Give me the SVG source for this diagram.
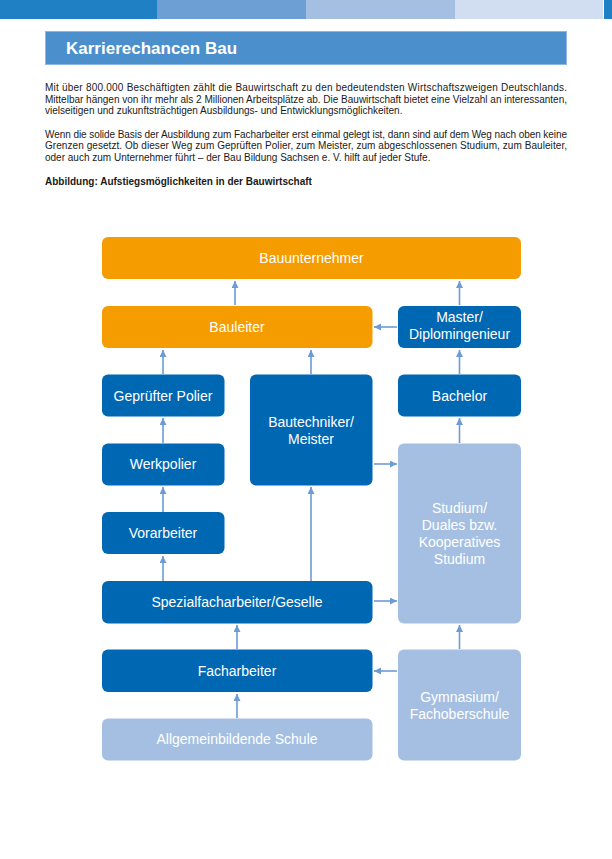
<svg xmlns="http://www.w3.org/2000/svg" width="612" height="859" viewBox="0 0 612 859">
<style>
.body{font-family:"Liberation Sans",Arial,sans-serif;font-size:10px;fill:#1a1a1a}
.cap{font-family:"Liberation Sans",Arial,sans-serif;font-size:10px;font-weight:bold;fill:#1a1a1a}
.title{font-family:"Liberation Sans",Arial,sans-serif;font-size:17px;font-weight:bold;fill:#ffffff}
.lbl{font-family:"Liberation Sans",Arial,sans-serif;font-size:14px;fill:#ffffff;text-anchor:middle}
.or{fill:#f59c00}
.bl{fill:#0067b3}
.lt{fill:#a5bfe3}
.con{stroke:#6c9bd6;stroke-width:1.6;fill:none;marker-end:url(#ah)}
</style>
<defs>
<marker id="ah" markerUnits="userSpaceOnUse" markerWidth="8" markerHeight="8" refX="7" refY="3.5" orient="auto">
<path d="M0,0 L7,3.5 L0,7 z" fill="#6c9bd6"/>
</marker>
</defs>
<rect width="612" height="859" fill="#ffffff"/>
<g id="topbar">
<rect x="0" y="0" width="157" height="19" fill="#1f80c4"/>
<rect x="157" y="0" width="149" height="19" fill="#6e9fd4"/>
<rect x="306" y="0" width="149" height="19" fill="#a5bfe3"/>
<rect x="455" y="0" width="148" height="19" fill="#d1ddf0"/>
<rect x="604" y="0" width="8" height="19" fill="#1f80c4"/>
</g>
<g id="titlebar">
<rect x="45.5" y="31.5" width="521" height="33" fill="#4b8fcd" stroke="#8fb7e2" stroke-width="1"/>
<text class="title" x="66" y="54">Karrierechancen Bau</text>
</g>
<g id="intro">
<text class="body" x="45" y="91" textLength="522" lengthAdjust="spacing">Mit über 800.000 Beschäftigten zählt die Bauwirtschaft zu den bedeutendsten Wirtschaftszweigen Deutschlands.</text>
<text class="body" x="45" y="102.5" textLength="522" lengthAdjust="spacing">Mittelbar hängen von ihr mehr als 2 Millionen Arbeitsplätze ab. Die Bauwirtschaft bietet eine Vielzahl an interessanten,</text>
<text class="body" x="45" y="114">vielseitigen und zukunftsträchtigen Ausbildungs- und Entwicklungsmöglichkeiten.</text>
<text class="body" x="45" y="137.5" textLength="522" lengthAdjust="spacing">Wenn die solide Basis der Ausbildung zum Facharbeiter erst einmal gelegt ist, dann sind auf dem Weg nach oben keine</text>
<text class="body" x="45" y="149" textLength="522" lengthAdjust="spacing">Grenzen gesetzt. Ob dieser Weg zum Geprüften Polier, zum Meister, zum abgeschlossenen Studium, zum Bauleiter,</text>
<text class="body" x="45" y="160.5">oder auch zum Unternehmer führt – der Bau Bildung Sachsen e. V. hilft auf jeder Stufe.</text>
<text class="cap" x="45" y="185">Abbildung: Aufstiegsmöglichkeiten in der Bauwirtschaft</text>
</g>
<g id="connectors">
<line class="con" x1="235" y1="305" x2="235" y2="281"/>
<line class="con" x1="459.5" y1="305" x2="459.5" y2="281"/>
<line class="con" x1="397" y1="327" x2="374" y2="327"/>
<line class="con" x1="163" y1="374" x2="163" y2="350"/>
<line class="con" x1="311" y1="374" x2="311" y2="350"/>
<line class="con" x1="459.5" y1="374" x2="459.5" y2="350"/>
<line class="con" x1="163" y1="443" x2="163" y2="418"/>
<line class="con" x1="459.5" y1="443" x2="459.5" y2="418"/>
<line class="con" x1="374" y1="464" x2="397" y2="464"/>
<line class="con" x1="163" y1="512" x2="163" y2="487"/>
<line class="con" x1="163" y1="581" x2="163" y2="556"/>
<line class="con" x1="311" y1="581" x2="311" y2="487"/>
<line class="con" x1="374" y1="601" x2="397" y2="601"/>
<line class="con" x1="237" y1="649" x2="237" y2="625"/>
<line class="con" x1="459.5" y1="649" x2="459.5" y2="625"/>
<line class="con" x1="397" y1="671" x2="374" y2="671"/>
<line class="con" x1="237" y1="718" x2="237" y2="694"/>
</g>
<g id="bauunternehmer"><rect class="or" x="102" y="237" width="419" height="42" rx="6"/><text class="lbl" x="311.5" y="263">Bauunternehmer</text></g>
<g id="bauleiter"><rect class="or" x="102" y="306" width="270.5" height="42" rx="6"/><text class="lbl" x="237" y="332">Bauleiter</text></g>
<g id="master"><rect class="bl" x="398" y="306" width="123" height="42" rx="6"/><text class="lbl" x="459.5" y="322">Master/</text><text class="lbl" x="459.5" y="339">Diplomingenieur</text></g>
<g id="gepruefter-polier"><rect class="bl" x="102" y="374.5" width="122.5" height="42" rx="6"/><text class="lbl" x="163" y="400.5">Geprüfter Polier</text></g>
<g id="bautechniker"><rect class="bl" x="250" y="374.5" width="122.5" height="111" rx="6"/><text class="lbl" x="311" y="427">Bautechniker/</text><text class="lbl" x="311" y="444">Meister</text></g>
<g id="bachelor"><rect class="bl" x="398" y="374.5" width="123" height="42" rx="6"/><text class="lbl" x="459.5" y="400.5">Bachelor</text></g>
<g id="werkpolier"><rect class="bl" x="102" y="443.5" width="122.5" height="42" rx="6"/><text class="lbl" x="163" y="469">Werkpolier</text></g>
<g id="studium"><rect class="lt" x="398" y="443.5" width="123" height="180" rx="6"/><text class="lbl" x="459.5" y="513">Studium/</text><text class="lbl" x="459.5" y="530">Duales bzw.</text><text class="lbl" x="459.5" y="547">Kooperatives</text><text class="lbl" x="459.5" y="564">Studium</text></g>
<g id="vorarbeiter"><rect class="bl" x="102" y="512" width="122.5" height="42" rx="6"/><text class="lbl" x="163" y="538">Vorarbeiter</text></g>
<g id="spezialfacharbeiter"><rect class="bl" x="102" y="581" width="270.5" height="42.5" rx="6"/><text class="lbl" x="237" y="607">Spezialfacharbeiter/Geselle</text></g>
<g id="facharbeiter"><rect class="bl" x="102" y="649.5" width="270.5" height="42.5" rx="6"/><text class="lbl" x="237" y="676">Facharbeiter</text></g>
<g id="gymnasium"><rect class="lt" x="398" y="649.5" width="123" height="111" rx="6"/><text class="lbl" x="459.5" y="702">Gymnasium/</text><text class="lbl" x="459.5" y="719">Fachoberschule</text></g>
<g id="allgemeinbildende-schule"><rect class="lt" x="102" y="718.5" width="270.5" height="42" rx="6"/><text class="lbl" x="237" y="744">Allgemeinbildende Schule</text></g>
</svg>
